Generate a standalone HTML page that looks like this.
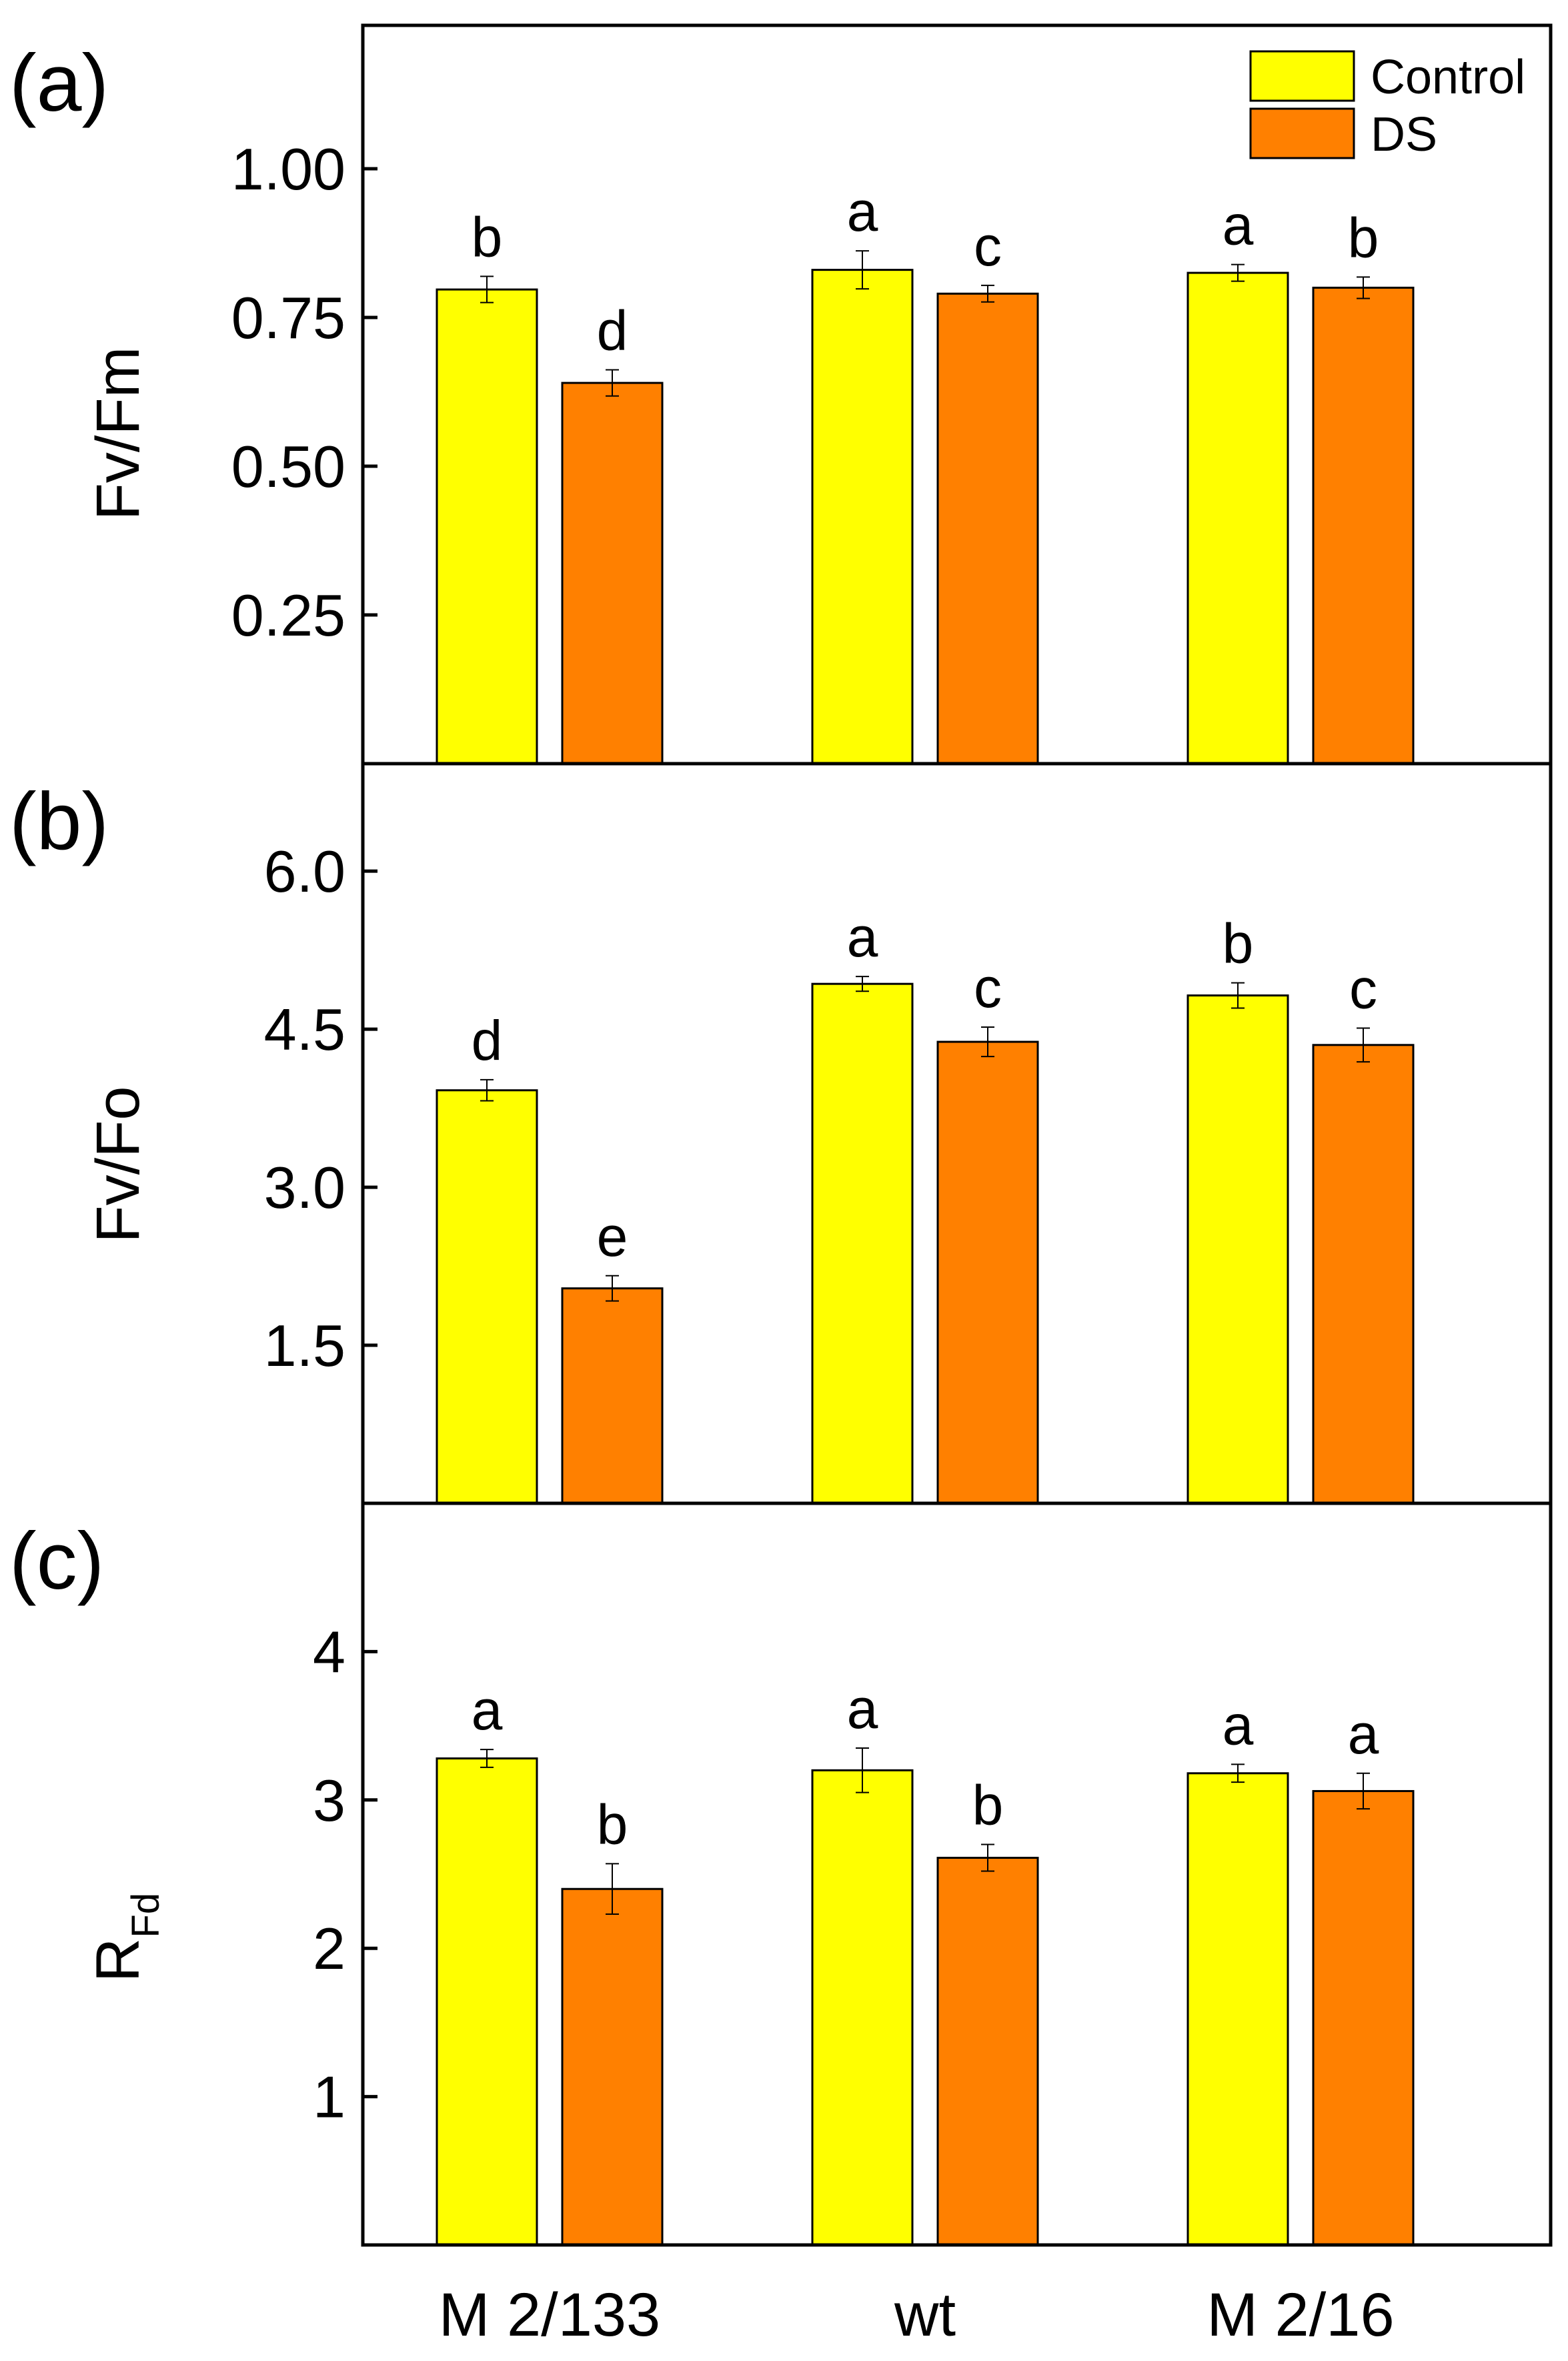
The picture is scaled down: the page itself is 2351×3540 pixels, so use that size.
<!DOCTYPE html>
<html><head><meta charset="utf-8"><style>
body{margin:0;background:#fff}
text{font-family:"Liberation Sans",Arial,sans-serif;fill:#000}
</style></head><body>
<svg id="chart" width="2351" height="3535" xmlns="http://www.w3.org/2000/svg"></svg>
<script>
const categories=["M 2/133","wt","M 2/16"];
const seriesNames=["Control","DS"];
const fvfmControl=[0.797,0.830,0.825];
const fvfmDS=[0.640,0.790,0.800];
const fvfmErrC=[0.022,0.032,0.014];
const fvfmErrDS=[0.022,0.014,0.018];
const fvfmLetC=["b","a","a"];
const fvfmLetDS=["d","c","b"];
const fvfoControl=[3.92,4.93,4.82];
const fvfoDS=[2.04,4.38,4.35];
const fvfoErrC=[0.10,0.07,0.12];
const fvfoErrDS=[0.12,0.14,0.16];
const fvfoLetC=["d","a","b"];
const fvfoLetDS=["e","c","c"];
const rfdControl=[3.28,3.20,3.18];
const rfdDS=[2.40,2.61,3.06];
const rfdErrC=[0.06,0.15,0.06];
const rfdErrDS=[0.17,0.09,0.12];
const rfdLetC=["a","a","a"];
const rfdLetDS=["b","b","a"];
const ticksA=["0.25","0.50","0.75","1.00"];
const ticksB=["1.5","3.0","4.5","6.0"];
const ticksC=["1","2","3","4"];

const svg=document.getElementById('chart');
const NS="http://www.w3.org/2000/svg";
function mk(tag,attrs,name,parent){const e=document.createElementNS(NS,tag);for(const k in attrs)e.setAttribute(k,attrs[k]);


(parent||svg).appendChild(e);return e;}
const X0=544,X1=2325;
function xCenter(i){return 824+i*563;}
const panels=[
 {top:38,bot:1145,max:1.241,ticks:ticksA,c:fvfmControl,d:fvfmDS,ec:fvfmErrC,ed:fvfmErrDS,lc:fvfmLetC,ld:fvfmLetDS,label:"(a)",title:"Fv/Fm",key:"fvfm",tcy:650},
 {top:1145,bot:2254,max:7.02,ticks:ticksB,c:fvfoControl,d:fvfoDS,ec:fvfoErrC,ed:fvfoErrDS,lc:fvfoLetC,ld:fvfoLetDS,label:"(b)",title:"Fv/Fo",key:"fvfo",tcy:1746},
 {top:2254,bot:3366,max:5.0,ticks:ticksC,c:rfdControl,d:rfdDS,ec:rfdErrC,ed:rfdErrDS,lc:rfdLetC,ld:rfdLetDS,label:"(c)",title:"RFd",key:"rfd",tcy:2905}
];
panels.forEach((p,pi)=>{
 const g=mk('g',{},'panel-'+p.key);
 const y=v=>p.bot-(v/p.max)*(p.bot-p.top);
 p.ticks.forEach(t=>{const v=parseFloat(t);
  mk('line',{x1:X0,x2:X0+22,y1:y(v),y2:y(v),stroke:'#000','stroke-width':5},'y-tick',g);
  const tx=mk('text',{x:518,y:y(v)+31,'font-size':88,'text-anchor':'end'},'y-tick-label',g);tx.textContent=t;});
 const series=[[p.c,p.ec,p.lc,'#ffff00',-94,'control'],[p.d,p.ed,p.ld,'#ff8000',94,'ds']];
 series.forEach(s=>{
  s[0].forEach((v,i)=>{const cx=xCenter(i)+s[4];
   mk('rect',{x:cx-75,y:y(v),width:150,height:p.bot-y(v),fill:s[3],stroke:'#000','stroke-width':3},'bar-'+s[5]+'-'+i,g);
   const e=s[1][i];
   mk('line',{x1:cx,x2:cx,y1:y(v+e),y2:y(v-e),stroke:'#000','stroke-width':2},'error-bar',g);
   mk('line',{x1:cx-10,x2:cx+10,y1:y(v+e),y2:y(v+e),stroke:'#000','stroke-width':2},'error-cap',g);
   mk('line',{x1:cx-10,x2:cx+10,y1:y(v-e),y2:y(v-e),stroke:'#000','stroke-width':2},'error-cap',g);
   const lt=mk('text',{x:cx,y:y(v+e)-30,'font-size':84,'text-anchor':'middle'},'significance-letter',g);lt.textContent=s[2][i];
  });
 });
 mk('rect',{x:X0,y:p.top,width:X1-X0,height:p.bot-p.top,fill:'none',stroke:'#000','stroke-width':5},'plot-frame',g);
 const pl=mk('text',{x:14,y:p.top+128,'font-size':122},'panel-label',g);pl.textContent=p.label;
 const cy=p.tcy;
 if(p.key==='rfd'){
  const tt=mk('text',{x:0,y:0,'font-size':92,'text-anchor':'middle',transform:`translate(208,${cy}) rotate(-90)`},'y-axis-title',g);
  tt.innerHTML='R<tspan font-size="58" dy="30">Fd</tspan>';
 }else{
  const tt=mk('text',{x:0,y:0,'font-size':92,'text-anchor':'middle',transform:`translate(208,${cy}) rotate(-90)`},'y-axis-title',g);tt.textContent=p.title;
 }
});
categories.forEach((c,i)=>{const t=mk('text',{x:xCenter(i),y:3502,'font-size':92,'text-anchor':'middle'},'x-tick-label');t.textContent=c;});
const lg=mk('g',{},'legend');
[['#ffff00',77,'Control'],['#ff8000',163,'DS']].forEach(l=>{
 mk('rect',{x:1875,y:l[1],width:155,height:74,fill:l[0],stroke:'#000','stroke-width':3},'legend-swatch',lg);
 const t=mk('text',{x:2055,y:l[1]+63,'font-size':72},'legend-entry',lg);t.textContent=l[2];
});
</script>
</body></html>
